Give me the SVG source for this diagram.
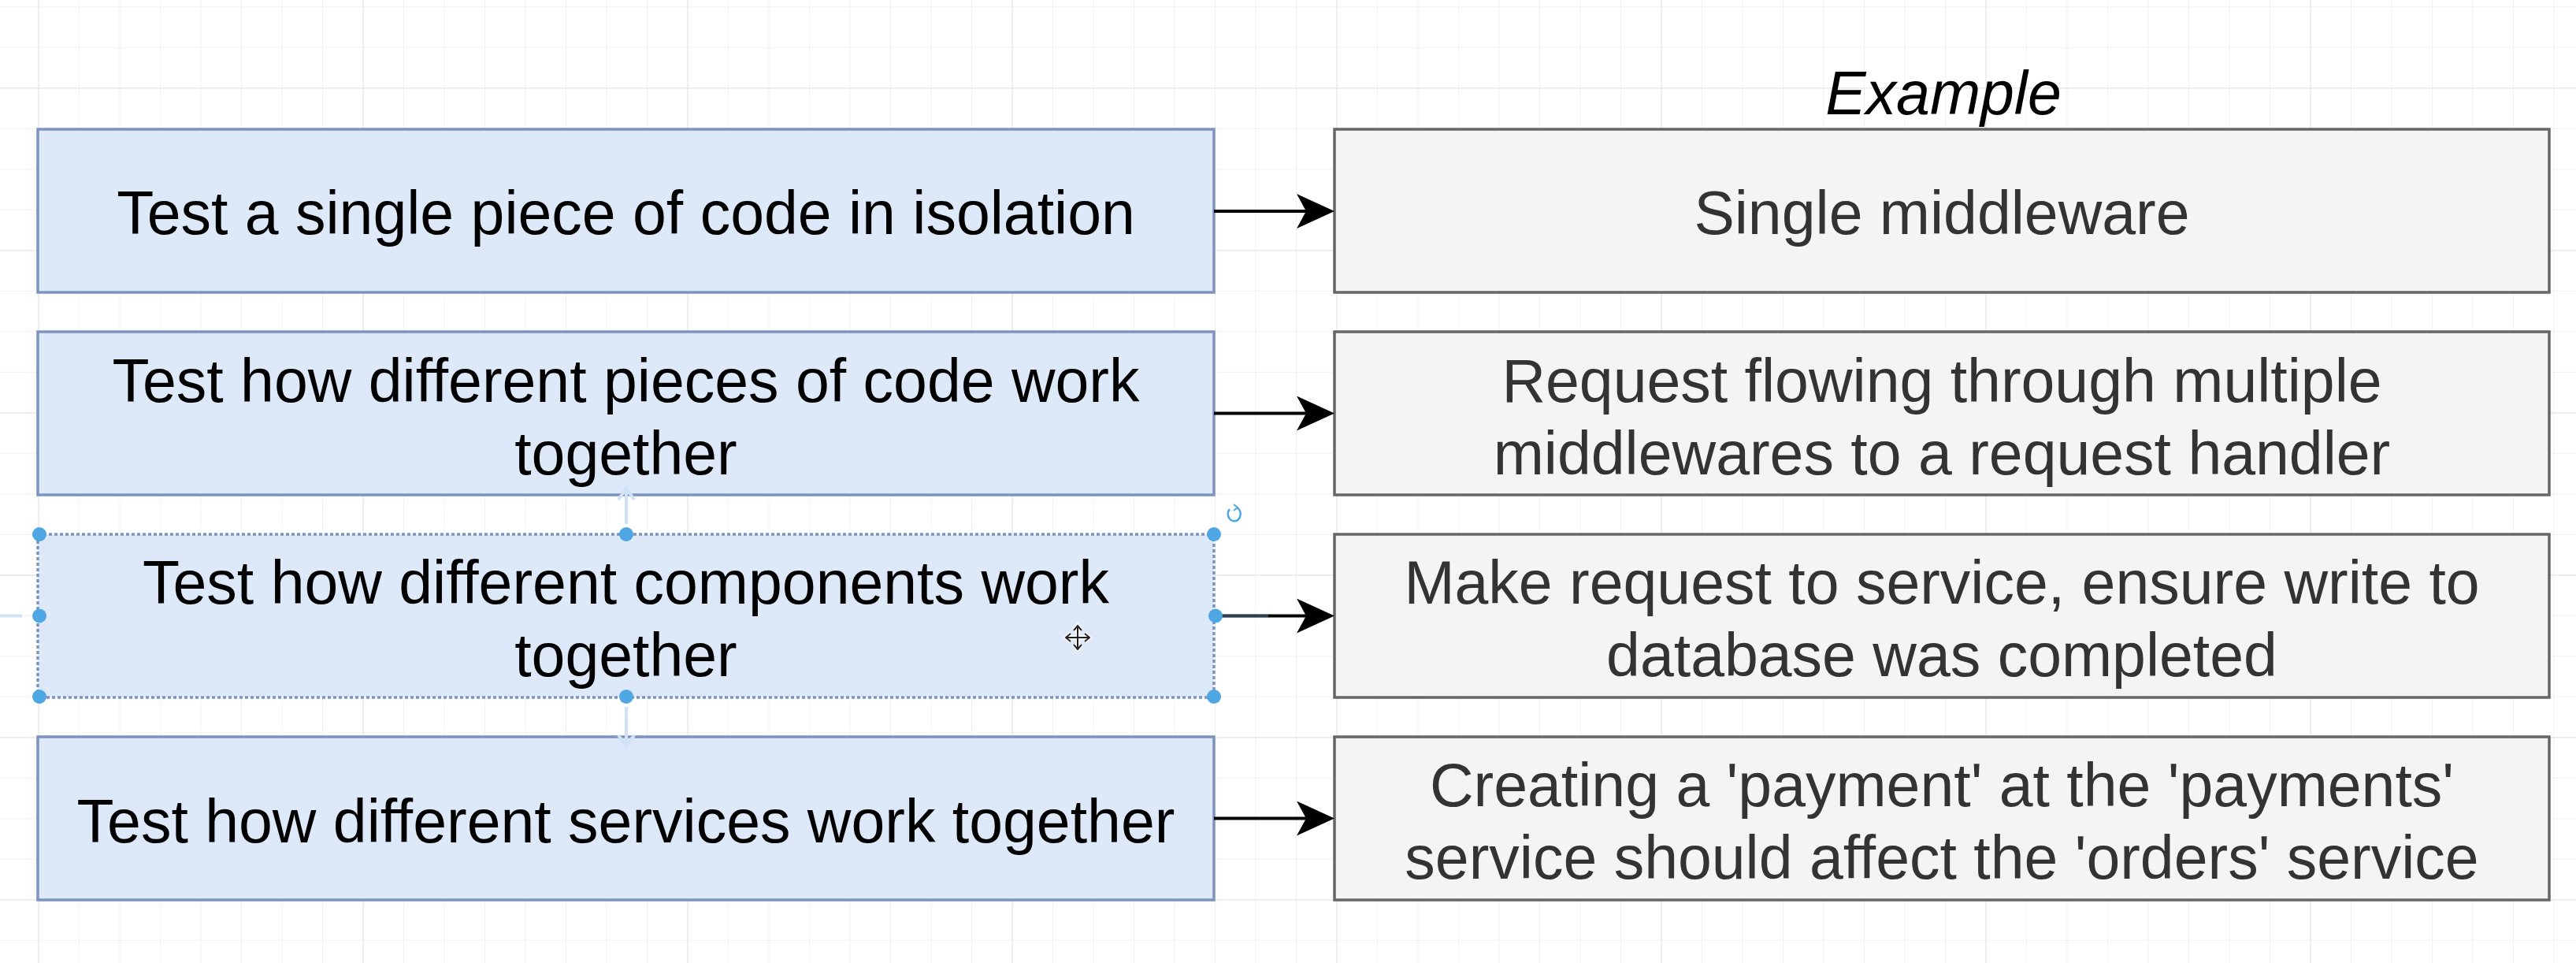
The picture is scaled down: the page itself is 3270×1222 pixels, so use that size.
<svg xmlns="http://www.w3.org/2000/svg" width="3270" height="1222" viewBox="0 0 3270 1222">
<style>
.lbox{fill:#dde8f9;stroke:#7d93bf;stroke-width:3.5}
.rbox{fill:#f4f4f4;stroke:#666666;stroke-width:3.5}
.lt{font-family:"Liberation Sans",Arial,Helvetica,sans-serif;font-size:77px;fill:#000000;text-anchor:middle}
.rt{font-family:"Liberation Sans",Arial,Helvetica,sans-serif;font-size:77px;fill:#333333;text-anchor:middle}
.edge{stroke:#000000;stroke-width:4;fill:none;marker-end:url(#arrow)}
.handle{fill:#4ea6e3}
.ghost{stroke:#cfe2f6;stroke-width:4;fill:none}
</style>
<defs>
<pattern id="minor" patternUnits="userSpaceOnUse" x="48.5" y="8.3" width="51.5" height="51.5">
<path d="M0,0 H51.5 M0,0 V51.5" stroke="#f1f1f1" stroke-width="2" fill="none"/>
</pattern>
<pattern id="major" patternUnits="userSpaceOnUse" x="48.5" y="111.3" width="412" height="206">
<path d="M0,0 H412 M0,0 V206" stroke="#e6e6e6" stroke-width="2.5" fill="none"/>
</pattern>
<marker id="arrow" markerUnits="userSpaceOnUse" viewBox="0 0 48 44" refX="14" refY="22" markerWidth="48" markerHeight="44" orient="auto">
<path d="M0,0 L48,22 L0,44 L12,22 Z" fill="#000000"/>
</marker>
</defs>
<rect x="0" y="0" width="3270" height="1222" fill="#ffffff"/>
<rect x="0" y="0" width="3270" height="1222" fill="url(#minor)"/>
<rect x="0" y="0" width="3270" height="1222" fill="url(#major)"/>

<g id="header">
<text x="2467" y="145" class="lt" font-style="italic" font-size="76">Example</text>
</g>

<g id="node-unit">
<rect class="lbox" x="48" y="164" width="1493" height="207"/>
<text class="lt" x="794.5" y="297">Test a single piece of code in isolation</text>
</g>
<g id="node-integration">
<rect class="lbox" x="48" y="421" width="1493" height="207"/>
<text class="lt" x="794.5" y="509.5">Test how different pieces of code work</text>
<text class="lt" x="794.5" y="601.5">together</text>
</g>
<g id="node-component">
<rect class="lbox" x="48" y="678" width="1493" height="207" stroke="#8c9ab8" stroke-dasharray="4 3"/>
<text class="lt" x="794.5" y="766">Test how different components work</text>
<text class="lt" x="794.5" y="858">together</text>
</g>
<g id="node-e2e">
<rect class="lbox" x="48" y="935" width="1493" height="207"/>
<text class="lt" x="794.5" y="1069">Test how different services work together</text>
</g>

<g id="ex-unit">
<rect class="rbox" x="1694" y="164" width="1542" height="207"/>
<text class="rt" x="2465" y="297">Single middleware</text>
</g>
<g id="ex-integration">
<rect class="rbox" x="1694" y="421" width="1542" height="207"/>
<text class="rt" x="2465" y="509.5">Request flowing through multiple</text>
<text class="rt" x="2465" y="601.5">middlewares to a request handler</text>
</g>
<g id="ex-component">
<rect class="rbox" x="1694" y="678" width="1542" height="207"/>
<text class="rt" x="2465" y="766">Make request to service, ensure write to</text>
<text class="rt" x="2465" y="858">database was completed</text>
</g>
<g id="ex-e2e">
<rect class="rbox" x="1694" y="935" width="1542" height="207"/>
<text class="rt" x="2465" y="1023">Creating a 'payment' at the 'payments'</text>
<text class="rt" x="2465" y="1115">service should affect the 'orders' service</text>
</g>

<g id="connectors">
<path class="edge" d="M1541,268 H1660"/>
<path class="edge" d="M1541,524.5 H1660"/>
<path class="edge" d="M1541,781.5 H1660"/>
<path class="edge" d="M1541,1038.5 H1660"/>
</g>

<g id="selection">
<path class="ghost" d="M795,665 V622 M785,634 L795,620 L805,634"/>
<path class="ghost" d="M795,897 V945 M785,933 L795,947 L805,933"/>
<path class="ghost" d="M0,781.5 H28"/>
<path d="M1545,781.5 H1610" stroke="#5f7fa6" stroke-width="4" opacity="0.5"/>
<circle class="handle" cx="50" cy="678" r="9"/>
<circle class="handle" cx="795" cy="678" r="9"/>
<circle class="handle" cx="1541" cy="678" r="9"/>
<circle class="handle" cx="50" cy="781.5" r="9"/>
<circle class="handle" cx="1543" cy="781.5" r="9"/>
<circle class="handle" cx="50" cy="884" r="9"/>
<circle class="handle" cx="795" cy="884" r="9"/>
<circle class="handle" cx="1541" cy="884" r="9"/>
<path d="M1561,646 A8,9 0 1 0 1570,644" stroke="#4ea6e3" stroke-width="2.5" fill="none"/>
<path d="M1566,640 L1571,644 L1566,648" stroke="#4ea6e3" stroke-width="2" fill="none"/>
</g>

<g id="cursor">
<path d="M1368,795 V823 M1354,809 H1382 M1363,800 L1368,794 L1373,800 M1363,818 L1368,824 L1373,818 M1359,804 L1353,809 L1359,814 M1377,804 L1383,809 L1377,814" stroke="#ffffff" stroke-width="5" fill="none"/>
<path d="M1368,795 V823 M1354,809 H1382 M1363,800 L1368,794 L1373,800 M1363,818 L1368,824 L1373,818 M1359,804 L1353,809 L1359,814 M1377,804 L1383,809 L1377,814" stroke="#222222" stroke-width="2" fill="none"/>
</g>
</svg>
